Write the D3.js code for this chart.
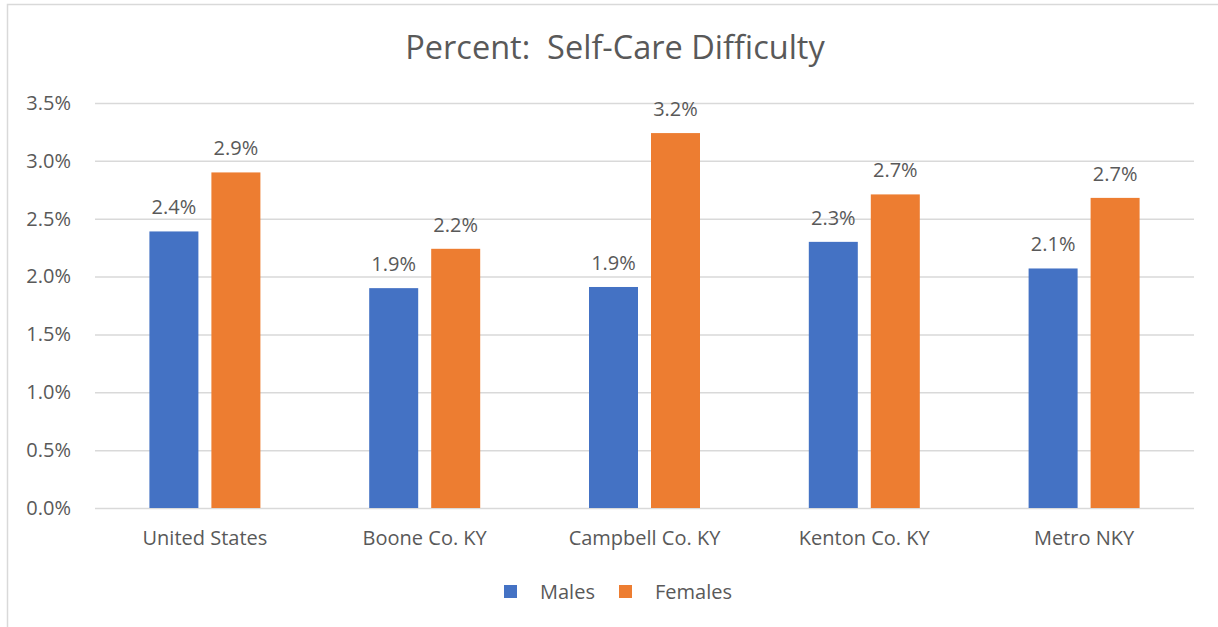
<!DOCTYPE html>
<html>
<head>
<meta charset="utf-8">
<script src="https://cdn.jsdelivr.net/npm/d3@7"></script>
<style>
  body { margin: 0; background: #fff; }
  text { font-family: "Open Sans", "Noto Sans", sans-serif; fill: #595959; }
</style>
</head>
<body>
<div class="chart"></div>
<script>
// data
var categories = ["United States", "Boone Co. KY", "Campbell Co. KY", "Kenton Co. KY", "Metro NKY"];
var males = [2.39, 1.90, 1.91, 2.30, 2.07];
var females = [2.90, 2.24, 3.24, 2.71, 2.68];
var seriesNames = ["Males", "Females"];
var seriesColors = ["#4472c4", "#ed7d31"];
var yTicks = [0, 0.5, 1.0, 1.5, 2.0, 2.5, 3.0, 3.5];

var svgWidth = 1218;
var svgHeight = 627;

var margin = { top: 103, right: 24, bottom: 119, left: 95 };
var width = svgWidth - margin.left - margin.right;
var height = svgHeight - margin.top - margin.bottom;

var svg = d3.select(".chart")
  .append("svg")
  .attr("width", svgWidth)
  .attr("height", svgHeight);

// chart frame
svg.append("rect")
  .attr("x", 7.5)
  .attr("y", 4.5)
  .attr("width", 1400)
  .attr("height", 800)
  .attr("fill", "none")
  .attr("stroke", "#d9d9d9")
  .attr("stroke-width", 1.5);

svg.append("text")
  .attr("x", 615)
  .attr("y", 59)
  .attr("text-anchor", "middle")
  .style("font-size", "32.5px")
  .style("white-space", "pre")
  .text("Percent:  Self-Care Difficulty");

var chartGroup = svg.append("g")
  .attr("transform", `translate(${margin.left}, ${margin.top})`);

var yScale = d3.scaleLinear()
  .domain([0, 3.5])
  .range([height, 0]);

var xScale = d3.scaleBand()
  .domain(categories)
  .range([0, width]);

// gridlines + y labels
var leftAxis = d3.axisLeft(yScale)
  .tickValues(yTicks)
  .tickSize(-width)
  .tickPadding(24)
  .tickFormat(d => d.toFixed(1) + "%");

var yAxis = chartGroup.append("g").call(leftAxis);
yAxis.select(".domain").remove();
yAxis.selectAll("line").attr("stroke", "#d9d9d9").attr("stroke-width", 1.5);
yAxis.selectAll("text").style("font-size", "20px").attr("fill", "#595959")
  .attr("font-family", null);

// category labels
var bottomAxis = d3.axisBottom(xScale).tickSize(0).tickPadding(23);
var xAxis = chartGroup.append("g")
  .attr("transform", `translate(0, ${height})`)
  .call(bottomAxis);
xAxis.select(".domain").remove();
xAxis.selectAll("text").style("font-size", "20px").attr("fill", "#595959")
  .attr("font-family", null);

// bars
var barW = 49;
var gap = 13;
var rows = categories.map((c, i) => ({ cat: c, vals: [males[i], females[i]] }));

var groups = chartGroup.selectAll(".cat")
  .data(rows)
  .enter()
  .append("g")
  .attr("transform", d => `translate(${xScale(d.cat) + xScale.bandwidth() / 2}, 0)`);

groups.selectAll("rect")
  .data(d => d.vals)
  .enter()
  .append("rect")
  .attr("x", (d, j) => j === 0 ? -barW - gap / 2 : gap / 2)
  .attr("y", d => yScale(d))
  .attr("width", barW)
  .attr("height", d => height - yScale(d))
  .attr("fill", (d, j) => seriesColors[j]);

groups.selectAll("text.val")
  .data(d => d.vals)
  .enter()
  .append("text")
  .attr("class", "val")
  .attr("x", (d, j) => j === 0 ? -barW / 2 - gap / 2 : barW / 2 + gap / 2)
  .attr("y", d => yScale(d) - 17)
  .attr("text-anchor", "middle")
  .style("font-size", "20px")
  .text(d => d.toFixed(1) + "%");

// legend
var legendX = [504, 619];
var legend = svg.append("g");
seriesNames.forEach(function(name, i) {
  legend.append("rect")
    .attr("x", legendX[i])
    .attr("y", 585)
    .attr("width", 13)
    .attr("height", 13)
    .attr("fill", seriesColors[i]);
  legend.append("text")
    .attr("x", legendX[i] + 36)
    .attr("y", 599)
    .style("font-size", "20px")
    .text(name);
});
</script>
</body>
</html>
